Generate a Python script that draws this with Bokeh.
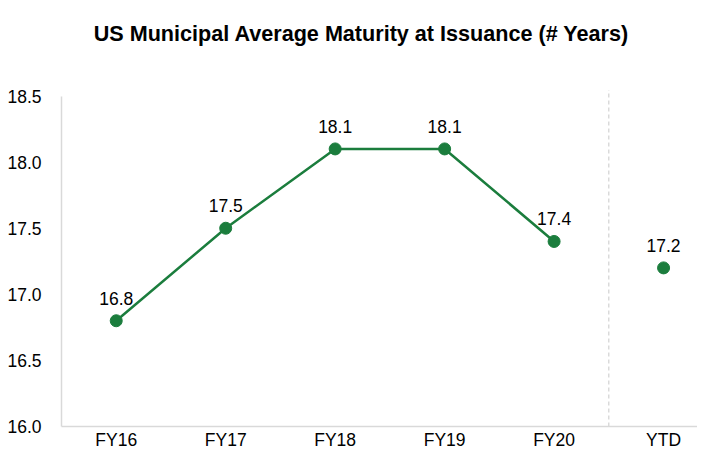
from bokeh.plotting import figure
from bokeh.models import Range1d, FixedTicker, Label, ColumnDataSource
from bokeh.embed import file_html
from bokeh.resources import INLINE
from bokeh.core.properties import value

categories = ["FY16", "FY17", "FY18", "FY19", "FY20", "YTD"]
maturity = [16.8, 17.5, 18.1, 18.1, 17.4, 17.2]
line_count = 5  # FY16..FY20 connected
y_ticks = [16.0, 16.5, 17.0, 17.5, 18.0, 18.5]
title_text = "US Municipal Average Maturity at Issuance (# Years)"

GREEN = "#1b7d3d"
FONT = "Liberation Sans"
Y_MIN, Y_MAX = y_ticks[0], y_ticks[-1]

xs = list(range(len(categories)))
src = ColumnDataSource(dict(x=xs, y=maturity, lab=[f"{v:.1f}" for v in maturity]))
line_src = ColumnDataSource(dict(x=xs[:line_count], y=maturity[:line_count]))

# frame spans the whole height; upper part (above 18.5) holds the title
p = figure(width=697, height=452, output_backend="svg", toolbar_location=None,
           x_range=Range1d(-0.5, 5.31), y_range=Range1d(Y_MIN, 19.223),
           min_border_left=61, min_border_right=0, min_border_top=0, min_border_bottom=19)
p.outline_line_color = None
p.xgrid.grid_line_color = None
p.ygrid.grid_line_color = None
p.background_fill_color = "white"
p.border_fill_color = "white"

for ax in (p.xaxis[0], p.yaxis[0]):
    ax.axis_line_color = "#d9d9d9"
    ax.axis_line_width = 1.5
    ax.major_tick_line_color = None
    ax.minor_tick_line_color = None
    ax.major_tick_out = 0
    ax.major_tick_in = 0
    ax.axis_label_standoff = 0
    ax.major_label_text_font = FONT
    ax.major_label_text_font_size = "17.5px"
    ax.major_label_text_color = "#000000"

p.xaxis.ticker = FixedTicker(ticks=xs)
p.xaxis.major_label_overrides = {i: c for i, c in enumerate(categories)}
p.xaxis.major_label_standoff = 3
p.yaxis.ticker = FixedTicker(ticks=y_ticks)
p.yaxis.major_label_overrides = {t: f"{t:.1f}" for t in y_ticks}
p.yaxis.major_label_standoff = 20
p.yaxis.bounds = (Y_MIN, Y_MAX)

# dashed separator between FY20 and YTD
p.segment(x0=[line_count - 0.5], y0=[Y_MIN], x1=[line_count - 0.5], y1=[Y_MAX + 0.045],
          line_color="#c8c8c8", line_dash="4 3", line_width=1)

p.line("x", "y", source=line_src, line_color=GREEN, line_width=2.5)
p.scatter("x", "y", source=src, size=12, fill_color=GREEN, line_color=GREEN)
p.text("x", "y", text="lab", source=src, text_align="center", text_baseline="bottom",
       y_offset=-16, text_font=value(FONT), text_font_size="17.5px", text_color="#000000")

title = Label(x=300, y=393, x_units="screen", y_units="screen", text=title_text,
              text_align="center", text_baseline="middle", text_font=FONT,
              text_font_size="21.6px", text_font_style="bold", text_color="#000000")
p.add_layout(title)

open("out.html", "w").write(file_html(p, INLINE))
